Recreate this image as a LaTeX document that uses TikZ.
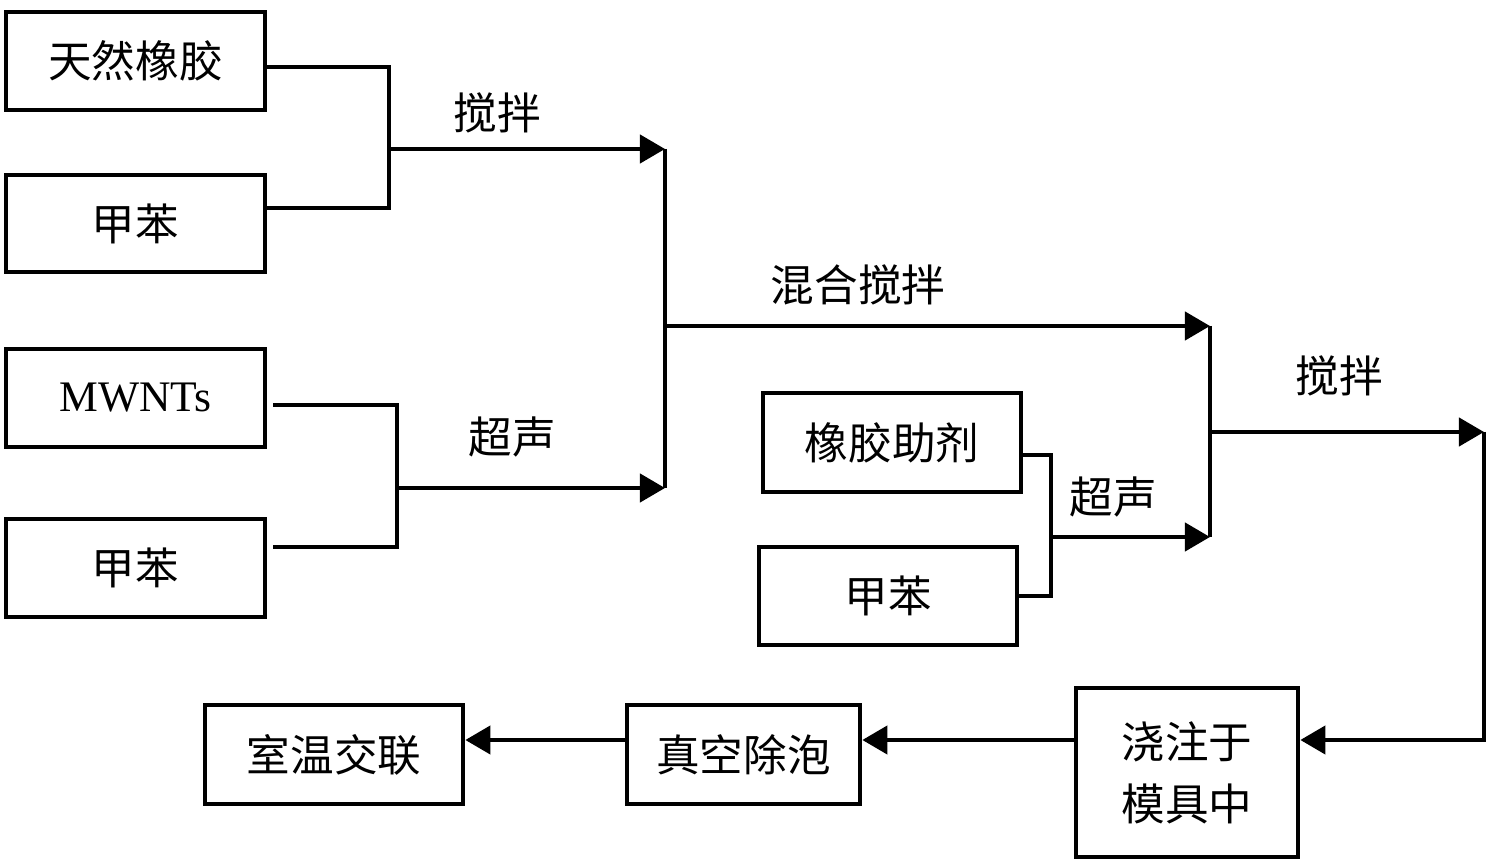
\documentclass[tikz,border=0pt]{standalone}
\usepackage{fontspec}
\setmainfont{Liberation Serif}
\newfontfamily\cjk{Noto Sans CJK SC}
\usepackage{tikz}
\usetikzlibrary{arrows.meta}

\begin{document}
\begin{tikzpicture}[x=0.01cm, y=-0.01cm, line width=1.2pt,
    box/.style={draw, line width=1.3pt, inner sep=0pt,
      font=\cjk\fontsize{12.4}{17.6}\selectfont},
    lab/.style={font=\cjk\fontsize{12.4}{15}\selectfont},
    flow/.style={-{Triangle[length=0.25cm,width=0.28cm]}}]
      \useasboundingbox (0,0) rectangle (1496,864);
      % Boxes, left column
      \node[box, minimum width=2.59cm, minimum height=0.98cm] (rubber) at (135.5,61) {天然橡胶};
      \node[box, minimum width=2.59cm, minimum height=0.97cm] (tolA) at (135.5,223.5) {甲苯};
      \node[box, minimum width=2.59cm, minimum height=0.98cm,
        font=\fontsize{12.4}{15}\selectfont] (mwnt) at (135.5,398) {MWNTs};
      \node[box, minimum width=2.59cm, minimum height=0.98cm] (tolB) at (135.5,568) {甲苯};
      % Boxes, middle
      \node[box, minimum width=2.58cm, minimum height=0.99cm] (aid) at (892,442.5) {橡胶助剂};
      \node[box, minimum width=2.58cm, minimum height=0.98cm] (tolC) at (888,596) {甲苯};
      % Boxes, bottom row
      \node[box, minimum width=2.22cm, minimum height=1.69cm, align=center] (cast) at (1187,772.5) {浇注于\\模具中};
      \node[box, minimum width=2.33cm, minimum height=0.99cm] (vac) at (743.5,754.5) {真空除泡};
      \node[box, minimum width=2.58cm, minimum height=0.99cm] (cure) at (334,754.5) {室温交联};

      % Junctions
      \coordinate (j1) at (389,149);
      \coordinate (j2) at (397,488);
      \coordinate (m1) at (665,149);
      \coordinate (m2) at (665,488);
      \coordinate (m3) at (665,326);
      \coordinate (j3) at (1051,537);
      \coordinate (n1) at (1210,326);
      \coordinate (n2) at (1210,537);
      \coordinate (n3) at (1210,432);
      \coordinate (k1) at (1484,432);
      \coordinate (k2) at (1484,740);

      % Rubber + toluene
      \draw (rubber.east |- 0,67) -| (j1);
      \draw (tolA.east |- 0,208) -| (j1);
      \draw[flow] (j1) -- (m1);
      % MWNTs + toluene
      \draw (273,405) -| (j2);
      \draw (273,547) -| (j2);
      \draw[flow] (j2) -- (m2);
      \draw (m1) -- (m2);
      \draw[flow] (m3) -- (n1);
      % Additives + toluene
      \draw (aid.east |- 0,455) -| (j3);
      \draw (tolC.east |- 0,596) -| (j3);
      \draw[flow] (j3) -- (n2);
      \draw (n1) -- (n2);
      \draw[flow] (n3) -- (k1);
      % Back along the bottom
      \draw[flow] (k1) -- (k2) -- (cast.east |- k2);
      \draw[flow] (cast.west |- k2) -- (vac.east |- k2);
      \draw[flow] (vac.west |- k2) -- (cure.east |- k2);

      % Labels
      \node[lab] (l1) at (497,113) {搅拌};
      \node[lab] (l2) at (512,437) {超声};
      \node[lab] (l3) at (858,285) {混合搅拌};
      \node[lab] (l4) at (1113,497) {超声};
      \node[lab] (l5) at (1339,376) {搅拌};
\end{tikzpicture}
\end{document}
